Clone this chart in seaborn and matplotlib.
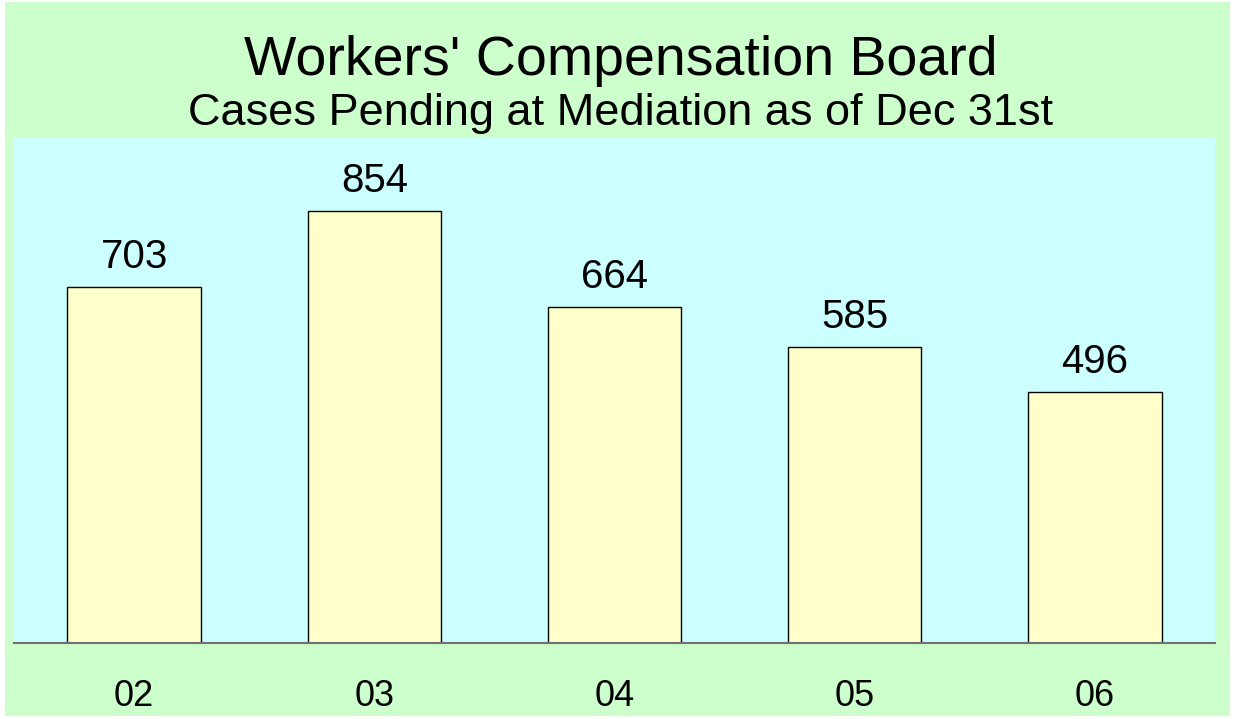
import matplotlib
matplotlib.use("Agg")
import matplotlib.pyplot as plt
import seaborn as sns
import pandas as pd
from matplotlib.patches import Rectangle

years = ["02", "03", "04", "05", "06"]
pending = [703, 854, 664, 585, 496]

title = "Workers' Compensation Board"
subtitle = "Cases Pending at Mediation as of Dec 31st"

df = pd.DataFrame({"year": years, "cases": pending})

sns.set_style("white")
plt.rcParams["font.family"] = ["Liberation Sans", "DejaVu Sans"]
plt.rcParams["text.color"] = "black"
plt.rcParams["xtick.color"] = "black"

W, H = 1235, 719
fig = plt.figure(figsize=(W / 100, H / 100), dpi=100, facecolor="white")

# green panel behind everything, thin white margin round it
fig.patches.append(Rectangle((5 / W, 3 / H), 1225 / W, 714 / H,
                             transform=fig.transFigure, facecolor="#CCFFCC",
                             edgecolor="none", zorder=-10))

ax = fig.add_axes([14 / W, (H - 643) / H, 1201 / W, (643 - 137) / H])
ax.set_facecolor("#CCFFFF")

sns.barplot(data=df, x="year", y="cases", color="#FFFFCC", saturation=1,
            edgecolor="black", linewidth=1, width=0.555, ax=ax)

for i, v in enumerate(pending):
    ax.annotate(str(v), (i, v), xytext=(0, 19), textcoords="offset pixels",
                ha="center", va="baseline", fontsize=29)

ax.set_xlim(-0.5, len(years) - 0.5)
ax.set_ylim(0, 1000)
ax.set_xlabel("")
ax.set_ylabel("")
ax.set_yticks([])
# baseline of year labels sits ~63 px under the axis line
ax.tick_params(axis="x", length=0, pad=63 * 0.72, labelsize=26, labelcolor="black")
for lab in ax.get_xticklabels():
    lab.set_va("baseline")

for s in ["top", "left", "right"]:
    ax.spines[s].set_visible(False)
ax.spines["bottom"].set_color("#707070")
ax.spines["bottom"].set_linewidth(1.5)

fig.text(621 / W, 1 - 75 / H, title, ha="center", va="baseline", fontsize=40)
fig.text(621 / W, 1 - 125 / H, subtitle, ha="center", va="baseline", fontsize=32.5)

fig.savefig("out.png", dpi=100, facecolor=fig.get_facecolor())
